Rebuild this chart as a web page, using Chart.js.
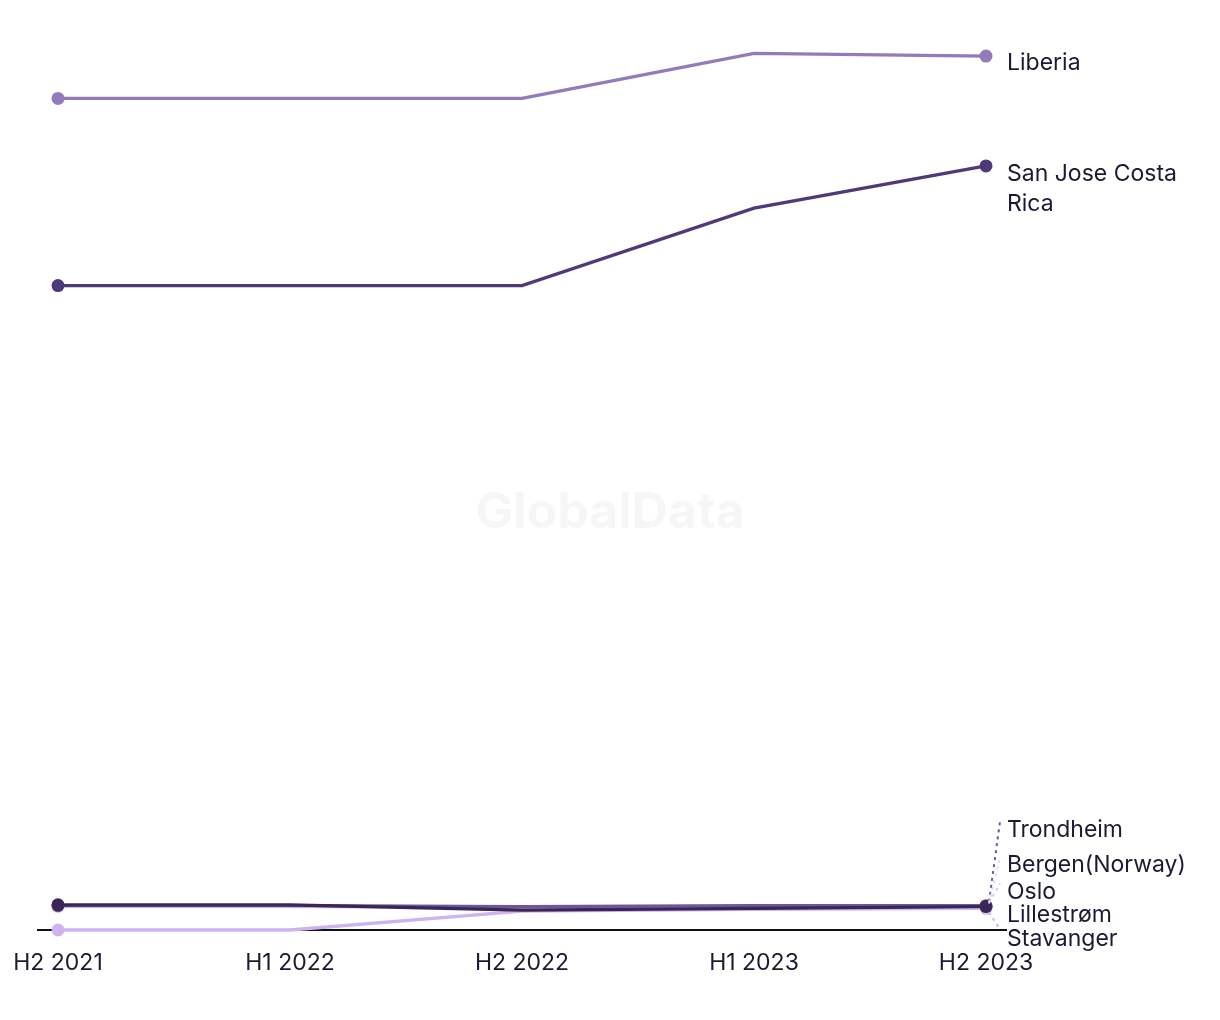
<!DOCTYPE html>
<html>
<head>
<meta charset="utf-8">
<script src="https://cdn.jsdelivr.net/npm/chart.js@4.4.1/dist/chart.umd.min.js"></script>
<style>
  html, body { margin: 0; padding: 0; background: #ffffff; }
  #wrap { width: 1220px; height: 1020px; position: relative; }
</style>
</head>
<body>
<div id="wrap"><canvas id="c" width="1220" height="1020"></canvas></div>
<script>
// ---- data ----
const periods = ["H2 2021", "H1 2022", "H2 2022", "H1 2023", "H2 2023"];
const seriesNames = ["Lillestrøm", "Trondheim", "Oslo", "Bergen(Norway)", "Stavanger", "San Jose Costa Rica", "Liberia"];
const lillestrom = [2.8, 2.8, 2.2, 2.4, 2.6];
const trondheim = [2.7, 2.7, 2.6, 2.7, 2.7];
const oslo = [2.7, 2.7, 2.5, 2.6, 2.6];
const bergen = [2.6, 2.6, 2.4, 2.5, 2.5];
const stavanger = [0.0, 0.0, 2.1, 2.3, 2.4];
const sanJose = [71.6, 71.6, 71.6, 80.2, 84.9];
const liberia = [92.4, 92.4, 92.4, 97.4, 97.1];
const seriesValues = [lillestrom, trondheim, oslo, bergen, stavanger, sanJose, liberia];

// ---- styles ----
const colors = ["#3a2758", "#6c5898", "#d9c6f5", "#e6d9f8", "#cdb3f0", "#4e3a78", "#927bb9"];
const labelDy = [8, -76, -15, -42, 31, 8, 7];
const FONT = "Inter, 'Noto Sans', sans-serif";
const TEXT = "#1c1a33";

const datasets = seriesNames.map((name, i) => ({
  label: name,
  data: seriesValues[i].map((v, j) => ({ x: j, y: v })),
  borderColor: colors[i],
  backgroundColor: colors[i],
  borderWidth: 3.3,
  pointRadius: seriesValues[i].map((v, j) => (j === 0 || j === seriesValues[i].length - 1) ? 6.5 : 0),
  pointHoverRadius: 6.5,
  pointBorderWidth: 0,
  tension: 0,
  clip: false,
  fill: false
}));

const watermark = {
  id: 'watermark',
  beforeDatasetsDraw(chart) {
    const ctx = chart.ctx;
    ctx.save();
    ctx.font = "bold 50px " + FONT;
    ctx.fillStyle = "rgba(0,0,0,0.035)";
    ctx.textAlign = "center";
    ctx.textBaseline = "middle";
    ctx.fillText("GlobalData", chart.width / 2, 513);
    ctx.restore();
  }
};

const endLabels = {
  id: 'endLabels',
  afterDatasetsDraw(chart) {
    const ctx = chart.ctx;
    ctx.save();
    ctx.font = "23px " + FONT;
    ctx.textBaseline = "middle";
    ctx.textAlign = "left";
    chart.data.datasets.forEach((ds, i) => {
      const meta = chart.getDatasetMeta(i);
      const pt = meta.data[meta.data.length - 1];
      const x = pt.x + 21;
      const y = pt.y + labelDy[i];
      if (Math.abs(labelDy[i]) > 12) {
        ctx.save();
        ctx.strokeStyle = colors[i];
        ctx.lineWidth = 2;
        ctx.setLineDash([3, 4]);
        ctx.beginPath();
        const sgn = Math.sign(labelDy[i]);
        ctx.moveTo(pt.x + 3, pt.y + sgn * 4);
        ctx.lineTo(x - 7, y - (sgn < 0 ? 8 : 10));
        ctx.stroke();
        ctx.restore();
      }
      // wrap text
      const maxW = chart.width - x - 8;
      const words = ds.label.split(' ');
      const lines = [];
      let cur = '';
      words.forEach(w => {
        const t = cur ? cur + ' ' + w : w;
        if (ctx.measureText(t).width > maxW && cur) { lines.push(cur); cur = w; } else cur = t;
      });
      lines.push(cur);
      ctx.fillStyle = TEXT;
      lines.forEach((ln, k) => ctx.fillText(ln, x, y + k * 30));
    });
    ctx.restore();
  }
};

new Chart(document.getElementById('c'), {
  type: 'line',
  data: { datasets },
  options: {
    responsive: false,
    animation: false,
    events: [],
    layout: { padding: { left: 38, right: 214, top: 30, bottom: 30 } },
    plugins: { legend: { display: false }, tooltip: { enabled: false } },
    scales: {
      x: {
        type: 'linear',
        min: -20 / 232,
        max: 4 + 20 / 232,
        z: 1,
        grid: { display: false, drawTicks: false },
        border: { display: true, color: "#111111", width: 2 },
        ticks: {
          stepSize: 1,
          includeBounds: false,
          autoSkip: false,
          maxRotation: 0,
          padding: 19,
          color: TEXT,
          font: { family: FONT, size: 23 },
          callback: (v) => Number.isInteger(v) && periods[v] !== undefined ? periods[v] : null
        },
        afterFit: (s) => { s.height = 60; s.paddingLeft = 0; s.paddingRight = 0; }
      },
      y: {
        display: false,
        min: 0,
        max: 100
      }
    }
  },
  plugins: [watermark, endLabels]
});
</script>
</body>
</html>
